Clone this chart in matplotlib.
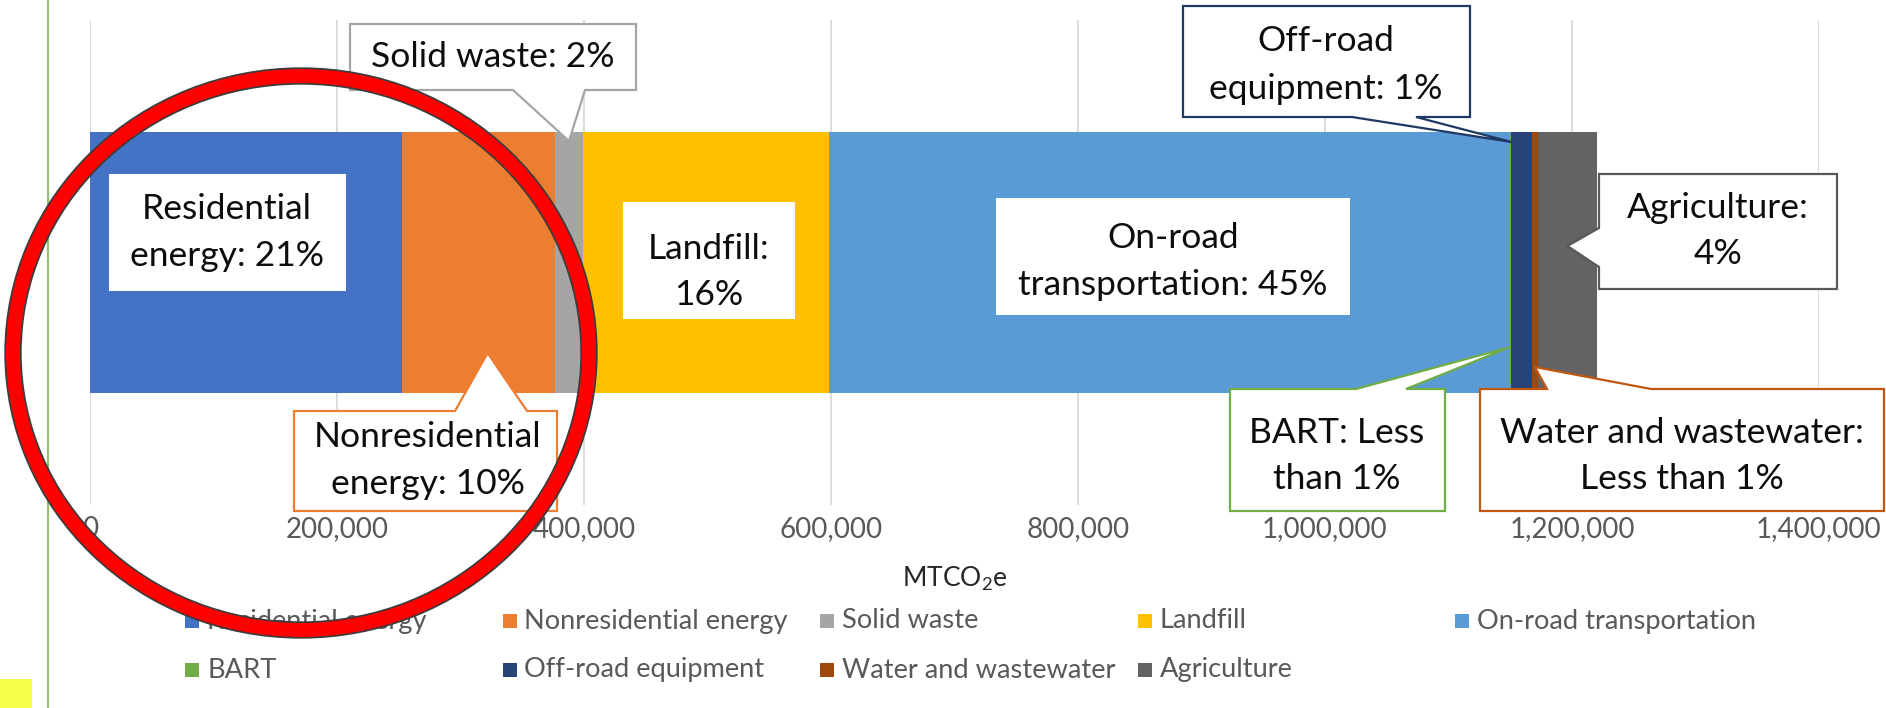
import matplotlib
matplotlib.use("Agg")
import matplotlib.pyplot as plt
from matplotlib.patches import Polygon, Rectangle, Ellipse
from matplotlib.lines import Line2D
import matplotlib.patheffects as pe

# ---------------- data ----------------
categories = ['Residential energy', 'Nonresidential energy', 'Solid waste', 'Landfill',
              'On-road transportation', 'BART', 'Off-road equipment',
              'Water and wastewater', 'Agriculture']
values = [252600, 123900, 22700, 199200, 551000, 1500, 16500, 5000, 47800]
colors = ['#4472C4', '#ED7D31', '#A5A5A5', '#FFC000', '#5B9BD5',
          '#70AD47', '#264478', '#9E480E', '#636363']
callout_text = ['Residential\nenergy: 21%', 'Nonresidential\nenergy: 10%', 'Solid waste: 2%',
                'Landfill:\n16%', 'On-road\ntransportation: 45%', 'BART: Less\nthan 1%',
                'Off-road\nequipment: 1%', 'Water and wastewater:\nLess than 1%',
                'Agriculture:\n4%']
x_ticks = [0, 200000, 400000, 600000, 800000, 1000000, 1200000, 1400000]
x_label = 'MTCO$_\\mathregular{2}$e'

FONT = 'Lato'
plt.rcParams['font.family'] = [FONT, 'DejaVu Sans']
plt.rcParams['mathtext.fontset'] = 'custom'
plt.rcParams['mathtext.rm'] = FONT

W, H = 1886, 708
fig = plt.figure(figsize=(W / 100, H / 100), dpi=100)
fig.patch.set_facecolor('white')

# plot area in pixels (top-left origin)
PL, PR, PT, PB = 90, 1819, 20, 505
ax = fig.add_axes([PL / W, 1 - PB / H, (PR - PL) / W, (PB - PT) / H])

lefts = []
acc = 0
for v in values:
    lefts.append(acc)
    acc += v
for v, l, c, name in zip(values, lefts, colors, categories):
    ax.barh(0, v, left=l, height=0.54, color=c, label=name, zorder=2)

ax.set_xlim(x_ticks[0], x_ticks[-1])
ax.set_ylim(-0.5, 0.5)
ax.set_yticks([])
ax.set_xticks(x_ticks)
ax.set_xticklabels(['{:,}'.format(t) for t in x_ticks], fontsize=20, color='#595959')
ax.tick_params(axis='x', length=0, pad=8)
ax.xaxis.grid(True, color='#D9D9D9', lw=1.3, zorder=0)
ax.set_axisbelow(True)
for s in ax.spines.values():
    s.set_visible(False)

fig.text((PL + PR) / 2 / W, 1 - 579 / H, x_label, ha='center', va='center',
         fontsize=19, color='#262626')


def F(x, y):
    return (x / W, 1 - y / H)


def seg_px(i, frac=0.5):
    v = lefts[i] + values[i] * frac
    return ax.transData.transform((v, 0))[0]


def add_box(x0, y0, x1, y1, ec=None, side=None, b0=None, b1=None, tip=None):
    pts = [(x0, y0)]
    if side == 'top':
        pts += [(b0, y0), tip, (b1, y0)]
    pts += [(x1, y0), (x1, y1)]
    if side == 'bottom':
        pts += [(b1, y1), tip, (b0, y1)]
    pts += [(x0, y1)]
    if side == 'left':
        pts += [(x0, b1), tip, (x0, b0)]
    poly = Polygon([F(*p) for p in pts], closed=True, transform=fig.transFigure,
                   facecolor='white', edgecolor=ec if ec else 'white',
                   lw=1.6 if ec else 0, zorder=5, joinstyle='miter')
    fig.add_artist(poly)


def add_lines(text, cx, ys, size=25.5):
    for line, y in zip(text.split('\n'), ys):
        fig.text(cx / W, 1 - y / H, line, ha='center', va='center',
                 fontsize=size, color='#0d0d0d', zorder=6)


# inside-bar labels (no border)
add_box(109, 174, 346, 291)
add_lines(callout_text[0], 227, [209, 256])
add_box(623, 202, 795, 319)
add_lines(callout_text[3], 709, [249, 295])
add_box(996, 198, 1350, 315)
add_lines(callout_text[4], 1173, [238, 285])

# callouts with pointers
add_box(350, 24, 636, 90, ec='#A5A5A5', side='bottom', b0=513, b1=585,
        tip=(seg_px(2), 141))
add_lines(callout_text[2], 493, [57])

add_box(294, 411, 557, 511, ec='#ED7D31', side='top', b0=455, b1=527,
        tip=(seg_px(1, 0.56), 353))
add_lines(callout_text[1], 428, [437, 484])

add_box(1183, 6, 1470, 117, ec='#1F3864', side='bottom', b0=1352, b1=1416,
        tip=(seg_px(6, 0.0), 142))
add_lines(callout_text[6], 1326, [41, 89])

add_box(1599, 174, 1837, 289, ec='#595959', side='left', b0=228, b1=267,
        tip=(seg_px(8), 246))
add_lines(callout_text[8], 1718, [208, 254])

add_box(1230, 389, 1445, 511, ec='#70AD47', side='top', b0=1356, b1=1406,
        tip=(seg_px(5), 347))
add_lines(callout_text[5], 1337, [433, 479])

add_box(1480, 389, 1884, 511, ec='#C0560F', side='top', b0=1547, b1=1651,
        tip=(seg_px(7), 367))
add_lines(callout_text[7], 1682, [433, 479])

# legend (manual, Excel-like fixed columns)
leg_x0, leg_dx = 185, 317.5
leg_rows = [621, 670]
for i, (name, c) in enumerate(zip(categories, colors)):
    row, col = divmod(i, 5)
    x = leg_x0 + col * leg_dx
    y = leg_rows[row]
    fig.add_artist(Rectangle(F(x, y + 7), 14 / W, 14 / H, transform=fig.transFigure,
                             facecolor=c, edgecolor='none', zorder=5))
    fig.text((x + 22) / W, 1 - y / H, name, ha='left', va='center',
             fontsize=19.6, color='#595959', zorder=6)

# page decorations of the screenshot
fig.add_artist(Line2D([48 / W, 48 / W], [0, 1], transform=fig.transFigure,
                      color='#8DC26F', lw=1.5, zorder=7))
fig.add_artist(Rectangle(F(0, 708), 32 / W, 29 / H, transform=fig.transFigure,
                         facecolor='#F6FF4A', edgecolor='none', zorder=7))

# red highlight ellipse
ell = Ellipse(F(301, 353), 576 / W, 554 / H, transform=fig.transFigure,
              facecolor='none', edgecolor='#FF0000', lw=10, zorder=10)
ell.set_path_effects([pe.Stroke(linewidth=12.5, foreground='#3c3c3c'), pe.Normal()])
fig.add_artist(ell)

fig.savefig('out.png', dpi=100, facecolor='white')
